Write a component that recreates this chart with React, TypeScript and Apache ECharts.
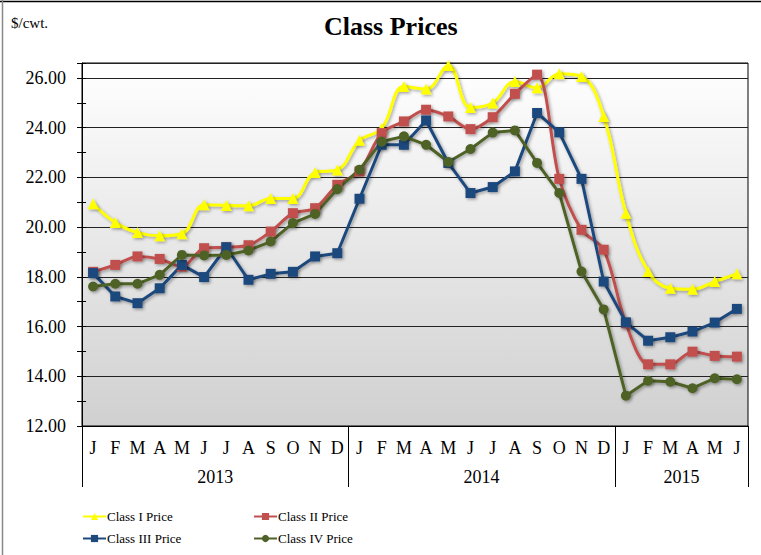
import React, { useEffect, useRef } from "react";
import * as echarts from "echarts";

const monthLetters = ["J", "F", "M", "A", "M", "J", "J", "A", "S", "O", "N", "D"];
const years = ["2013", "2014", "2015"];
const yearCenters = [5.5, 17.5, 26.5];
const categories = [
  ...monthLetters.map((m, i) => `2013-${i + 1}`),
  ...monthLetters.map((m, i) => `2014-${i + 1}`),
  ...monthLetters.slice(0, 6).map((m, i) => `2015-${i + 1}`),
];

const classI = [20.94, 20.18, 19.78, 19.65, 19.73, 20.9, 20.87, 20.86, 21.15, 21.15, 22.2, 22.3,
  23.49, 23.97, 25.65, 25.55, 26.5, 24.81, 24.99, 25.86, 25.6, 26.17, 26.06, 24.45,
  20.56, 18.21, 17.54, 17.5, 17.81, 18.12];
const classII = [18.2, 18.48, 18.82, 18.72, 18.41, 19.15, 19.19, 19.27, 19.82, 20.56, 20.76, 21.7,
  22.24, 23.78, 24.25, 24.72, 24.45, 23.94, 24.42, 25.36, 26.13, 21.94, 19.89, 19.09,
  16.13, 14.48, 14.48, 14.99, 14.82, 14.79];
const classIII = [18.15, 17.21, 16.94, 17.54, 18.48, 17.99, 19.19, 17.88, 18.12, 18.2, 18.82, 18.95,
  21.14, 23.31, 23.31, 24.29, 22.58, 21.37, 21.61, 22.24, 24.59, 23.81, 21.94, 17.81,
  16.17, 15.43, 15.57, 15.8, 16.16, 16.71];
const classIV = [17.61, 17.72, 17.72, 18.08, 18.88, 18.86, 18.88, 19.06, 19.42, 20.16, 20.53, 21.53,
  22.31, 23.44, 23.65, 23.31, 22.62, 23.14, 23.8, 23.89, 22.58, 21.37, 18.21, 16.69,
  13.22, 13.82, 13.78, 13.52, 13.92, 13.88];

const FONT = "'Liberation Serif', 'Times New Roman', serif";

export default function App() {
  const ref = useRef<HTMLDivElement>(null);
  useEffect(() => {
    if (!ref.current) return;
    const chart = echarts.init(ref.current, undefined, { renderer: "svg" });
    const shadow = {
      shadowBlur: 3,
      shadowColor: "rgba(0,0,0,0.35)",
      shadowOffsetX: 1.5,
      shadowOffsetY: 1.5,
    };
    const mk = (name: string, data: number[], color: string, symbol: string, size: number, smooth: any) => ({
      name,
      type: "line",
      data,
      smooth,
      symbol,
      symbolSize: size,
      showSymbol: true,
      itemStyle: { color, ...shadow },
      lineStyle: { color, width: 3, ...shadow },
      xAxisIndex: 0,
      yAxisIndex: 0,
    });
    const legendItem = (name: string, left: number, top: number) => ({
      data: [name],
      left,
      top,
      padding: 0,
      orient: "horizontal",
      itemWidth: 23,
      itemHeight: 9,
      itemGap: 2,
      selectedMode: false,
      textStyle: { fontFamily: FONT, fontSize: 13, color: "#000", padding: [0, 0, 0, -4] },
    });
    const minorAxis = (inside: boolean) => ({
      type: "value",
      min: 12,
      max: 26.6,
      interval: 1,
      position: "left",
      axisLine: { show: false, onZero: false },
      axisTick: { show: true, inside, length: inside ? 4 : 5, lineStyle: { color: "#000" } },
      splitLine: { show: false },
      axisLabel: { show: false },
    });
    chart.setOption({
      animation: false,
      textStyle: { fontFamily: FONT },
      grid: {
        left: 82,
        right: 13,
        top: 63,
        bottom: 129,
        show: true,
        borderColor: "#000",
        borderWidth: 1,
        backgroundColor: new echarts.graphic.LinearGradient(0, 0, 0, 1, [
          { offset: 0, color: "#ffffff" },
          { offset: 1, color: "#d0d0d0" },
        ]),
      },
      xAxis: [
        {
          type: "category",
          data: categories,
          boundaryGap: true,
          position: "bottom",
          axisLine: { show: true, onZero: false, lineStyle: { color: "#000", width: 1 } },
          axisTick: {
            show: true,
            interval: (i: number) => i % 12 === 0,
            length: 61,
            lineStyle: { color: "#000", width: 1 },
          },
          axisLabel: {
            interval: 0,
            margin: 13,
            fontFamily: FONT,
            fontSize: 18,
            color: "#000",
            formatter: (v: string) => monthLetters[Number(v.split("-")[1]) - 1],
          },
          splitLine: { show: false },
        },
        {
          type: "value",
          min: -0.5,
          max: 29.5,
          interval: 0.5,
          position: "bottom",
          axisLine: { show: false, onZero: false },
          axisTick: { show: false },
          splitLine: { show: false },
          axisLabel: {
            margin: 42,
            fontFamily: FONT,
            fontSize: 18,
            color: "#000",
            formatter: (v: number) => {
              const k = yearCenters.findIndex((c) => Math.abs(c - v) < 1e-6);
              return k >= 0 ? years[k] : "";
            },
          },
        },
      ],
      yAxis: [
        {
          type: "value",
          min: 12,
          max: 26.6,
          interval: 2,
          axisLine: { show: true, onZero: false, lineStyle: { color: "#000", width: 1 } },
          axisTick: { show: false },
          splitLine: { show: true, lineStyle: { color: "#222", width: 1 } },
          axisLabel: {
            margin: 16,
            fontFamily: FONT,
            fontSize: 18,
            color: "#000",
            formatter: (v: number) => (Math.abs(v % 2) < 1e-6 ? v.toFixed(2) : ""),
          },
        },
        minorAxis(false),
        minorAxis(true),
      ],
      legend: [
        legendItem("Class I Price", 82, 510),
        legendItem("Class II Price", 253, 510),
        legendItem("Class III Price", 82, 532),
        legendItem("Class IV Price", 253, 532),
      ],
      graphic: [
        {
          type: "text",
          left: 392 - 68,
          top: 13,
          style: { text: "Class Prices", font: `bold 26px ${FONT}`, fill: "#000" },
        },
        {
          type: "text",
          left: 11,
          top: 15,
          style: { text: "$/cwt.", font: `15px ${FONT}`, fill: "#000" },
        },
        {
          type: "line",
          shape: { x1: 0, y1: 1.5, x2: 761, y2: 1.5 },
          style: { stroke: "#000", lineWidth: 1.5 },
        },
        {
          type: "line",
          shape: { x1: 2.5, y1: 0, x2: 2.5, y2: 555 },
          style: { stroke: "#888", lineWidth: 1.5 },
        },
      ],
      series: [
        mk("Class I Price", classI, "#FFFF00", "triangle", 11, 0.4),
        mk("Class II Price", classII, "#C0504D", "rect", 10, 0.3),
        mk("Class III Price", classIII, "#1F497D", "rect", 10, false),
        mk("Class IV Price", classIV, "#4F6228", "circle", 10, false),
      ],
    });
    return () => chart.dispose();
  }, []);
  return (
    <div
      ref={ref}
      style={{ position: "fixed", left: 0, top: 0, width: 761, height: 555, background: "#fff" }}
    />
  );
}
